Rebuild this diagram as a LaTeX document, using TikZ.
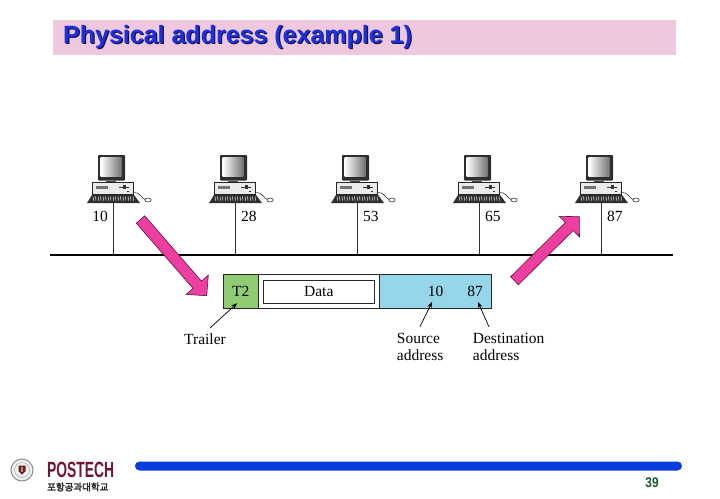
\documentclass[tikz,border=0pt]{standalone}
\usepackage{fontspec}
\setmainfont{Liberation Serif}
\setsansfont{Liberation Sans}
\newfontfamily\krfont{Noto Sans CJK KR}[AutoFakeBold=2.5]
\usetikzlibrary{arrows.meta,calc}
\definecolor{titlebg}{RGB}{240,200,221}
\definecolor{titleblue}{RGB}{28,48,222}
\definecolor{titleshade}{RGB}{20,20,70}
\definecolor{arrowpink}{RGB}{238,62,162}
\definecolor{arrowedge}{RGB}{90,20,60}
\definecolor{trailergreen}{RGB}{144,204,116}
\definecolor{headerblue}{RGB}{150,214,234}
\definecolor{footblue}{RGB}{8,60,222}
\definecolor{pagegreen}{RGB}{22,88,40}
\definecolor{postechred}{RGB}{112,22,52}
\tikzset{
  serif/.style={font=\fontsize{15.5}{17}\selectfont, inner sep=0pt},
  framebox/.style={draw=black!85, line width=0.9pt, inner sep=0pt, minimum height=34pt, anchor=north west, font=\fontsize{15.5}{17}\selectfont},
  note/.style={-{Stealth[length=6pt,width=4.5pt]}, line width=0.7pt},
  bigarrow/.style={fill=arrowpink, draw=arrowedge, line width=0.6pt, line join=miter},
  drop/.style={line width=0.6pt, draw=black!80},
  bus/.style={line width=2pt},
  computer/.pic={
    \fill[black!82, rounded corners=0.8pt] (-15,0) rectangle (12,25.5);
    \shade[left color=white, right color=black!55] (-12.5,2.5) rectangle (8.5,21.5);
    \fill[black!70] (-7,25.5) rectangle (3,27.5);
    \draw[black!85, fill=black!8, line width=0.6pt] (-21,27.5) rectangle (20,39);
    \fill[black!55] (-17,30.5) rectangle (-5,33.5);
    \draw[black!80, line width=0.6pt] (6,32) -- (16,32);
    \fill[black!80] (10,30) rectangle (13,34);
    \fill[black!80] (14,35.5) rectangle (16,37);
    \fill[black!82] (-21,40) -- (21,40) -- (27,48) -- (-26,48) -- cycle;
    \foreach \k in {-20,-17.5,...,21} \draw[white, line width=0.5pt] (\k,41.5) -- (\k+0.5,45.5);
    \draw[black!80, line width=0.6pt] (20,38) .. controls (27,36) and (29,44) .. (32,44.5);
    \draw[black!80, fill=white, line width=0.6pt] (35,45) ellipse (3.2 and 2);
    \coordinate (-base) at (0,48);
  }
}
\begin{document}
\begin{tikzpicture}[x=1pt,y=-1pt]
\useasboundingbox (0,0) rectangle (720,498);
\fill[white] (0,0) rectangle (720,498);

% title
\fill[titlebg] (53,19.5) rectangle (676,55);
\node[anchor=base west, inner sep=0, font=\sffamily\bfseries\fontsize{25}{25}\selectfont, text=titleshade] (titleshadow) at (64.2,44.5) {Physical address (example 1)};
\node[anchor=base west, inner sep=0, font=\sffamily\bfseries\fontsize{25}{25}\selectfont, text=titleblue] (title) at (63,43.3) {Physical address (example 1)};

% bus
\coordinate (busL) at (50,255);
\coordinate (busR) at (673,255);
\draw[bus] (busL) -- (busR);

% computers
\pic (pc1) at (113,155) {computer};
\pic (pc2) at (235,155) {computer};
\pic (pc3) at (357,155) {computer};
\pic (pc4) at (479,155) {computer};
\pic (pc5) at (601,155) {computer};
\coordinate (tap1) at (113,255);
\coordinate (tap2) at (235,255);
\coordinate (tap3) at (357,255);
\coordinate (tap4) at (479,255);
\coordinate (tap5) at (601,255);
\draw[drop] (pc1-base) -- (tap1);
\draw[drop] (pc2-base) -- (tap2);
\draw[drop] (pc3-base) -- (tap3);
\draw[drop] (pc4-base) -- (tap4);
\draw[drop] (pc5-base) -- (tap5);
\node[serif, anchor=base east] (addr10) at (108,221) {10};
\node[serif, anchor=base west] (addr28) at (241,221) {28};
\node[serif, anchor=base west] (addr53) at (363,221) {53};
\node[serif, anchor=base west] (addr65) at (485,221) {65};
\node[serif, anchor=base west] (addr87) at (607,221) {87};

% pink arrows
\draw[bigarrow] (144.7,215.8) -- (201.4,281.1) -- (208.3,275.1) -- (206.7,295.7) -- (186.1,294.4) -- (193.0,288.4) -- (136.3,223.2) -- cycle;
\draw[bigarrow] (518.4,284.8) -- (573.2,230.5) -- (579.5,236.9) -- (579.2,216.7) -- (559.1,216.3) -- (565.3,222.6) -- (510.6,276.8) -- cycle;

% frame
\node[framebox, fill=trailergreen, minimum width=35pt] (t2) at (222.7,274.3) {T2};
\node[framebox, fill=white, minimum width=121.6pt] (dataouter) at (257.7,274.3) {};
\node[draw=black!85, line width=0.9pt, inner sep=0pt, minimum width=111pt, minimum height=23.3pt, fill=white, font=\fontsize{15.5}{17}\selectfont] (data) at (318.8,291.7) {Data};
\node[framebox, fill=headerblue, minimum width=111.7pt] (header) at (379.3,274.3) {};
\node[serif] (srcaddr) at (435.5,291.7) {10};
\node[serif] (dstaddr) at (475,291.7) {87};

% annotations
\node[serif, anchor=base] (trl) at (205,344) {Trailer};
\node[serif, anchor=north west, align=left] (srclbl) at (396.7,333.5) {Source\\address};
\node[serif, anchor=north west, align=left] (dstlbl) at (472.7,333.5) {Destination\\address};
\coordinate (trlstart) at (210,328);
\coordinate (srcstart) at (420,326.7);
\coordinate (dststart) at (489,327);
\draw[note] (trlstart) -- ([xshift=-3.5pt,yshift=6pt]t2.south);
\draw[note] (srcstart) -- ([xshift=-3.5pt,yshift=-10.3pt]srcaddr.center);
\draw[note] (dststart) -- ([xshift=3pt,yshift=-10.3pt]dstaddr.center);

% footer
\fill[footblue, rounded corners=4.5pt] (135,461.5) rectangle (682,470.5);
\node[font=\sffamily\bfseries\fontsize{14}{14}\selectfont, text=pagegreen, inner sep=0] (pgnum) at (652,483) {\scalebox{0.85}[1]{39}};
\node[circle, draw=black!45, line width=1pt, fill=black!6, minimum size=22pt, inner sep=0] (seal) at (22,470) {};
\node[circle, draw=black!35, line width=0.5pt, minimum size=15pt, inner sep=0] (sealin) at (seal.center) {};
\fill[postechred] (18.5,465.5) -- (25.5,465.5) -- (25.5,471) -- (22,474.5) -- (18.5,471) -- cycle;
\fill[yellow!60!black] (21.2,467) rectangle (22.8,472);
\node[anchor=west, inner sep=0, text=postechred, font=\sffamily\bfseries\fontsize{22}{22}\selectfont] (postech) at (47,469.5) {\scalebox{0.63}[1]{POSTECH}};
\node[anchor=west, inner sep=0, text=black!85, font=\krfont\bfseries\fontsize{9.5}{10}\selectfont] (korean) at (47,487) {포항공과대학교};
\end{tikzpicture}
\end{document}
